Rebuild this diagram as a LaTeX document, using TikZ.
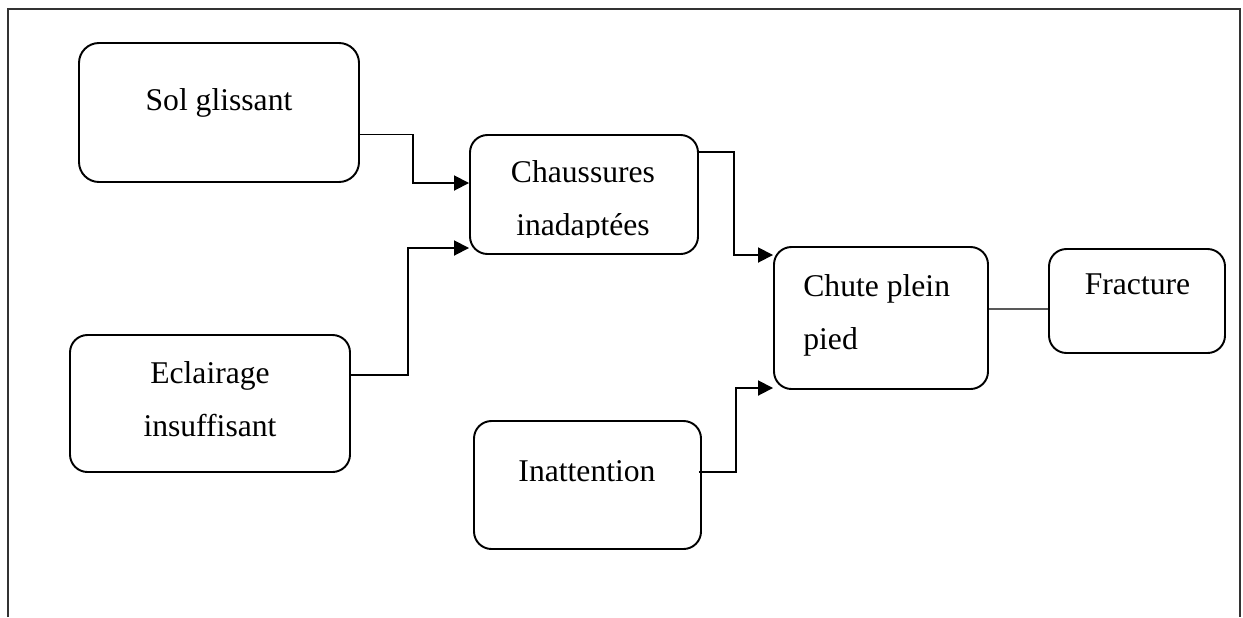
\documentclass[tikz,border=0pt]{standalone}
\usepackage{fontspec}
\setmainfont{Liberation Serif}
\usetikzlibrary{arrows.meta, calc}

\tikzset{
    causebox/.style={draw, line width=1.1pt, rounded corners=0.35cm, inner sep=0pt},
    causetext/.style={inner sep=0pt, align=center, font=\fontsize{18}{30.2}\selectfont},
    flow/.style={line width=1.05pt, -{Triangle[length=0.3cm, width=0.3cm]}},
    frame/.style={line width=0.7pt, black!80}
}

\begin{document}
\begin{tikzpicture}
\useasboundingbox (0,0) rectangle (24.86,12.34);

% Page frame (open at the bottom)
\draw[frame] (0.16,0) -- (0.16,12.16) -- (24.80,12.16) -- (24.80,0);

% Boxes
\node[causebox, rounded corners=0.4cm, minimum width=5.6cm, minimum height=2.78cm] (sol) at (4.38,10.09) {};
\node[causebox, minimum width=4.56cm, minimum height=2.38cm] (chaus) at (11.68,8.45) {};
\node[causebox, minimum width=5.6cm, minimum height=2.74cm] (ecl) at (4.2,4.27) {};
\node[causebox, minimum width=4.54cm, minimum height=2.56cm] (inat) at (11.75,2.64) {};
\node[causebox, minimum width=4.28cm, minimum height=2.84cm] (chute) at (17.62,5.98) {};
\node[causebox, minimum width=3.52cm, minimum height=2.08cm] (frac) at (22.74,6.32) {};

% Texts
\node[causetext] (solT) at (4.38,10.29) {Sol glissant};
\begin{scope}
    \clip (chaus.north west) rectangle ([yshift=0.34cm]chaus.south east); % cut as in the original
    \node[causetext] (chausT) at (11.66,8.31) {Chaussures\\inadaptées};
\end{scope}
\node[causetext] (eclT) at (4.2,4.36) {Eclairage\\insuffisant};
\node[causetext] (inatT) at (11.74,2.92) {Inattention};
\node[causetext, align=left, anchor=west] (chuteT) at (16.06,6.04) {Chute plein\\pied};
\node[causetext] (fracT) at (22.75,6.66) {Fracture};

% Connectors
\draw[flow] ([yshift=-0.44cm]sol.east) -| ([xshift=-1.12cm, yshift=0.23cm]chaus.west) -- ([yshift=0.23cm]chaus.west);
\draw[flow] ([yshift=0.57cm]ecl.east) -| ([xshift=-1.22cm, yshift=-1.07cm]chaus.west) -- ([yshift=-1.07cm]chaus.west);
\draw[flow] ([yshift=0.85cm]chaus.east) -| ([xshift=-0.78cm, yshift=1.26cm]chute.west) -- ([yshift=1.26cm]chute.west);
\draw[flow] ([xshift=-0.06cm, yshift=0.26cm]inat.east) -| ([xshift=-0.74cm, yshift=-1.40cm]chute.west) -- ([yshift=-1.40cm]chute.west);
\draw[line width=0.65pt] ([yshift=0.18cm]chute.east) -- ([yshift=-0.16cm]frac.west);

\end{tikzpicture}
\end{document}
